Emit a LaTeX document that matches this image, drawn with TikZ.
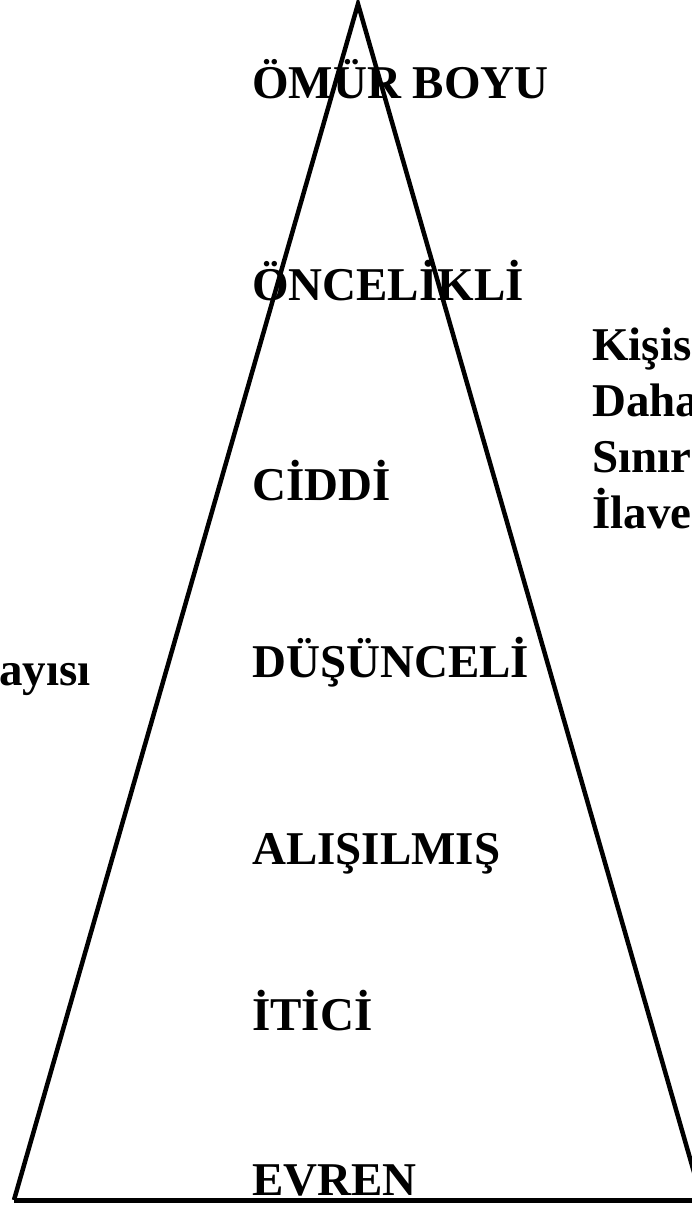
\documentclass[tikz,border=0pt]{standalone}
\usepackage{fontspec}
\setmainfont{Liberation Serif}
\begin{document}
\begin{tikzpicture}[x=1pt,y=-1pt,
  lbl/.style={anchor=base west,inner sep=0pt,font=\fontsize{47}{54}\selectfont\bfseries},
  side/.style={anchor=base west,inner sep=0pt,font=\fontsize{47}{54}\selectfont\bfseries},
  edge/.style={line width=4.5pt,line join=miter}]
\useasboundingbox (0,0) rectangle (692,1207);
\coordinate (apex) at (358,4);
\coordinate (bl) at (14,1200);
\coordinate (br) at (702,1200);
\draw[edge] (bl) -- (apex) -- (br);
\draw[line width=5pt] (bl) -- (br);
\node[lbl] (t1) at (252,98) {ÖMÜR BOYU};
\node[lbl] (t2) at (252,300) {ÖNCELİKLİ};
\node[lbl] (t3) at (252,500) {CİDDİ};
\node[lbl] (t4) at (252,677) {DÜŞÜNCELİ};
\node[lbl] (t5) at (252,864) {ALIŞILMIŞ};
\node[lbl] (t6) at (252,1030) {İTİCİ};
\node[lbl] (t7) at (252,1195) {EVREN};
\node[side] (r1) at (592,360) {Kişis};
\node[side] (r2) at (592,416) {Daha};
\node[side] (r3) at (592,472) {Sınır};
\node[side] (r4) at (592,528) {İlave};
\node[anchor=base east,inner sep=0pt,font=\fontsize{47}{54}\selectfont\bfseries] (l1) at (91,685) {ayısı};
\end{tikzpicture}
\end{document}
